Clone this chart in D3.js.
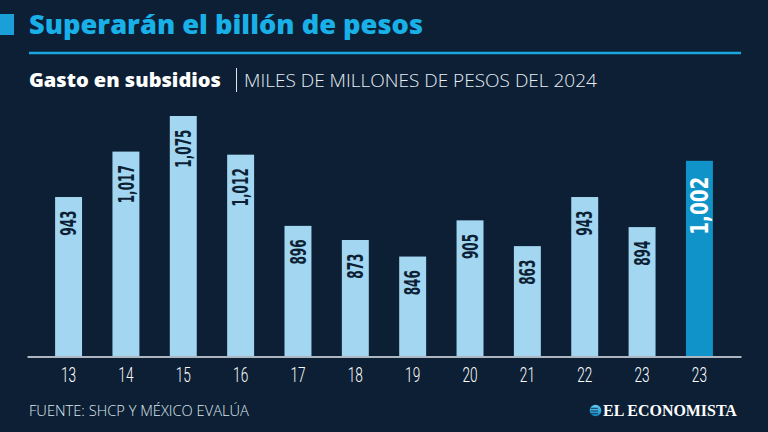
<!DOCTYPE html>
<html>
<head>
<meta charset="utf-8">
<script src="https://cdn.jsdelivr.net/npm/d3@7"></script>
<style>
  html, body { margin: 0; padding: 0; background: #0c1f34; }
  svg { display: block; }
</style>
</head>
<body>
<svg id="chart" width="768" height="432"></svg>
<script>
// ---- data ----
const categories = ["13", "14", "15", "16", "17", "18", "19", "20", "21", "22", "23", "23"];
const values = [943, 1017, 1075, 1012, 896, 873, 846, 905, 863, 943, 894, 1002];
const highlight = [false, false, false, false, false, false, false, false, false, false, false, true];
const yBase = 684;

const title = "Superarán el billón de pesos";
const subtitleBold = "Gasto en subsidios";
const subtitleLight = "MILES DE MILLONES DE PESOS DEL 2024";
const source = "FUENTE: SHCP Y MÉXICO EVALÚA";
const brand = "EL ECONOMISTA";

const W = 768, H = 432;
const bg = "#0c1f34";
const svg = d3.select("#chart");
svg.append("rect").attr("width", W).attr("height", H).attr("fill", bg);

function fit(sel, target) {
  const w = sel.node().getComputedTextLength();
  const fs = parseFloat(sel.attr("font-size"));
  sel.attr("font-size", (fs * target / w).toFixed(2));
}

// header
svg.append("rect").attr("x", 0).attr("y", 14).attr("width", 14).attr("height", 21).attr("fill", "#1a9fd9");
const t = svg.append("text").attr("x", 29).attr("y", 34)
  .attr("font-family", "'Open Sans', 'DejaVu Sans', sans-serif").attr("font-weight", 800)
  .attr("font-size", 27).attr("fill", "#19b0e8").text(title);
fit(t, 394);
svg.append("line").attr("x1", 29).attr("x2", 741).attr("y1", 53).attr("y2", 53)
  .attr("stroke", "#1aa6de").attr("stroke-width", 2.5);

const s1 = svg.append("text").attr("x", 29).attr("y", 87)
  .attr("font-family", "'Open Sans', 'DejaVu Sans', sans-serif").attr("font-weight", 800)
  .attr("font-size", 20).attr("fill", "#ffffff").text(subtitleBold);
fit(s1, 192);
svg.append("line").attr("x1", 236.5).attr("x2", 236.5).attr("y1", 68).attr("y2", 92)
  .attr("stroke", "#dfe7ee").attr("stroke-width", 1);
const s2 = svg.append("text").attr("x", 244).attr("y", 87)
  .attr("font-family", "'Open Sans', 'DejaVu Sans', sans-serif").attr("font-weight", 300)
  .attr("font-size", 18).attr("fill", "#e8eef4").text(subtitleLight);
fit(s2, 353);

// scales
const x = d3.scaleBand().domain(d3.range(categories.length)).range([27, 741])
  .paddingInner(0.53).paddingOuter(0.49);
const y = d3.scaleLinear().domain([yBase, 1075]).range([356, 116]);

// bars
svg.append("g").selectAll("rect").data(values).join("rect")
  .attr("x", (d, i) => x(i)).attr("width", x.bandwidth())
  .attr("y", d => y(d)).attr("height", d => y(yBase) - y(d))
  .attr("fill", (d, i) => highlight[i] ? "#0f93c8" : "#a3d6f1");

// value labels (condensed by horizontal scaling along the text direction)
const fmt = d3.format(",");
svg.append("g").selectAll("text").data(values).join("text")
  .attr("transform", (d, i) => `translate(${x(i) + x.bandwidth() / 2},${y(d) + (highlight[i] ? 16 : 13.5)}) rotate(-90) scale(${highlight[i] ? 0.85 : 0.64},1)`)
  .attr("text-anchor", "end").attr("dy", "0.36em")
  .attr("font-family", "'DejaVu Sans Condensed', 'DejaVu Sans', sans-serif")
  .attr("font-weight", "bold")
  .attr("font-size", (d, i) => highlight[i] ? 24 : 21)
  .attr("fill", (d, i) => highlight[i] ? "#ffffff" : "#0c1f34")
  .text(d => fmt(d));

// x axis
const ax = svg.append("g").attr("transform", "translate(0,356.5)")
  .call(d3.axisBottom(x).tickFormat(i => categories[i]).tickSize(0).tickSizeOuter(0));
ax.select(".domain").attr("stroke", "#e3ebf1").attr("stroke-width", 1.5);
ax.selectAll("text").attr("y", 25.5).attr("dy", 0)
  .attr("transform", "scale(0.7,1)")
  .attr("font-family", "Roboto, 'DejaVu Sans', sans-serif").attr("font-weight", 300)
  .attr("font-size", 19.5).attr("fill", "#ffffff");

// footer
const f = svg.append("text").attr("x", 29).attr("y", 415.5)
  .attr("font-family", "'Open Sans', 'DejaVu Sans', sans-serif").attr("font-weight", 300)
  .attr("font-size", 14).attr("fill", "#dfe7ee").text(source);
fit(f, 220);

const grad = svg.append("defs").append("linearGradient").attr("id", "glb")
  .attr("x1", 0).attr("y1", 0).attr("x2", 0).attr("y2", 1);
grad.append("stop").attr("offset", 0).attr("stop-color", "#5fd0f5");
grad.append("stop").attr("offset", 1).attr("stop-color", "#1187c4");
svg.append("circle").attr("cx", 595.5).attr("cy", 410.5).attr("r", 5.8).attr("fill", "url(#glb)");
[408.3, 411, 413.7].forEach(yy => svg.append("line").attr("x1", 590.5).attr("x2", 598).attr("y1", yy).attr("y2", yy)
  .attr("stroke", bg).attr("stroke-width", 0.8));
const b = svg.append("text").attr("x", 603).attr("y", 416)
  .attr("font-family", "'Liberation Serif', 'DejaVu Serif', serif").attr("font-weight", "bold")
  .attr("font-size", 15).attr("fill", "#ffffff").text(brand);
fit(b, 134);
</script>
</body>
</html>
